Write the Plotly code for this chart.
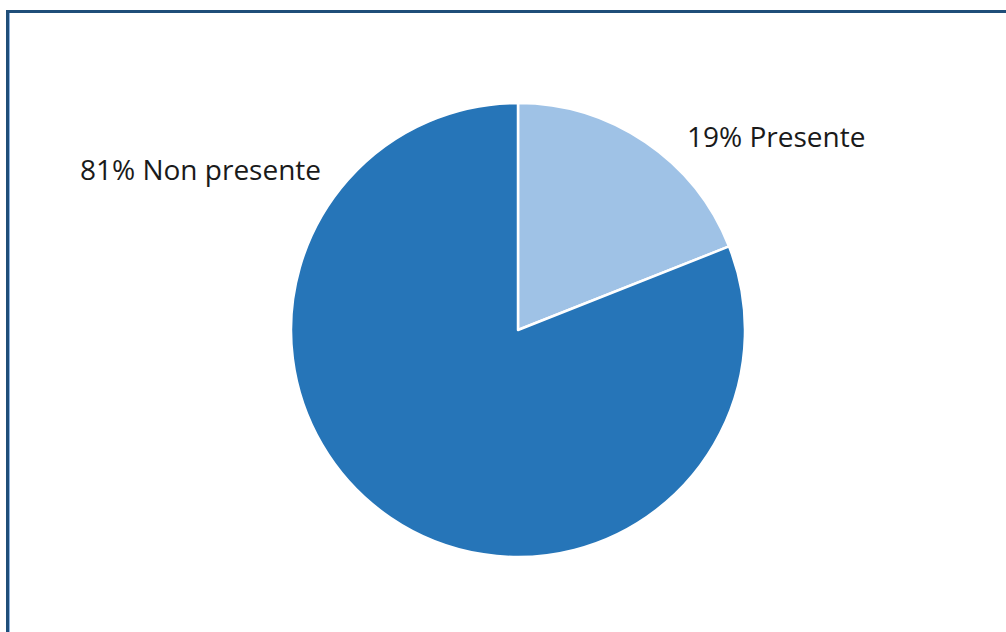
import plotly.graph_objects as go

# Share of responses
labels = ["Presente", "Non presente"]
values = [19, 81]
colors = ["#9FC2E6", "#2675B8"]

W, H = 1006, 632

fig = go.Figure(
    go.Pie(
        labels=labels,
        values=values,
        sort=False,
        direction="clockwise",
        rotation=0,
        marker=dict(colors=colors, line=dict(color="white", width=2.5)),
        textinfo="none",
        hoverinfo="label+percent",
        domain=dict(x=[291 / W, 745 / W], y=[1 - 557 / H, 1 - 103 / H]),
        showlegend=False,
    )
)

# Outside labels: percentage followed by category name
label_pos = {"Presente": (685 / W, 1 - 136 / H, "left"),
             "Non presente": (323 / W, 1 - 169 / H, "right")}
annotations = []
for lab, val in zip(labels, values):
    x, y, anchor = label_pos[lab]
    annotations.append(dict(
        x=x, y=y, xref="paper", yref="paper",
        text=f"{val}% {lab}", showarrow=False,
        xanchor=anchor, yanchor="middle",
        font=dict(family="Open Sans, Carlito, Calibri, sans-serif", size=28, color="#1a1a1a"),
    ))

# Frame around the chart area
shapes = [
    dict(type="rect", xref="paper", yref="paper",
         x0=7.5 / W, y0=-0.05, x1=1.05, y1=1 - 11.5 / H,
         line=dict(color="#1F4E79", width=3), fillcolor="rgba(0,0,0,0)"),
    dict(type="line", xref="paper", yref="paper",
         x0=9.5 / W, y0=-0.05, x1=9.5 / W, y1=1 - 13 / H,
         line=dict(color="#8DB4E2", width=1)),
]

fig.update_layout(
    width=W, height=H,
    margin=dict(l=0, r=0, t=0, b=0),
    paper_bgcolor="white",
    plot_bgcolor="white",
    annotations=annotations,
    shapes=shapes,
)

fig.write_html("out.html")
